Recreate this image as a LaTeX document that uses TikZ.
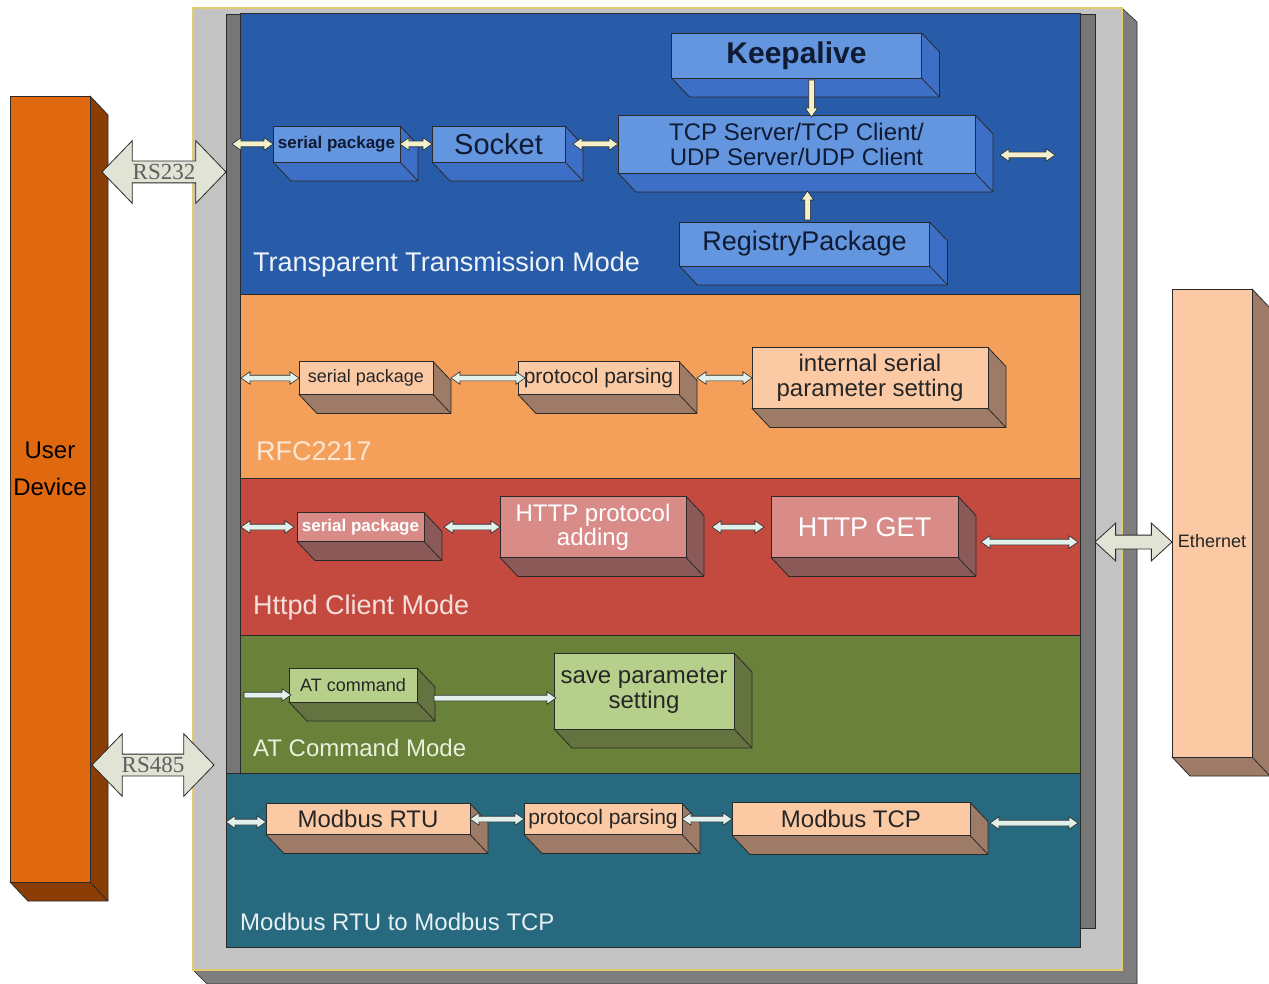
\documentclass[tikz,border=0pt]{standalone}
\usepackage{fontspec}
\setmainfont{Liberation Sans}
\newfontfamily\rsfont{Liberation Serif}
\usepackage{xcolor}
\usepackage{tikz}
\usetikzlibrary{calc}
\usetikzlibrary{positioning}
\usetikzlibrary{shapes.arrows}

\definecolor{edge}{HTML}{2A2A2A}
\definecolor{framegray}{HTML}{C3C3C3}
\definecolor{frameshade}{HTML}{7E7E7E}
\definecolor{frameyel}{HTML}{E3CC6E}
\definecolor{strip}{HTML}{767676}
\definecolor{ttblue}{HTML}{285CA8}
\definecolor{bluefront}{HTML}{6496DF}
\definecolor{blueside}{HTML}{3E6FC6}
\definecolor{navytext}{HTML}{0F1A33}
\definecolor{rfcorange}{HTML}{F4A05B}
\definecolor{peach}{HTML}{FBCAA5}
\definecolor{peachside}{HTML}{9D7B66}
\definecolor{httpred}{HTML}{C44A40}
\definecolor{pinkfront}{HTML}{D98B88}
\definecolor{pinkside}{HTML}{8B5A58}
\definecolor{atgreen}{HTML}{6A8139}
\definecolor{greenfront}{HTML}{B6D08C}
\definecolor{greenside}{HTML}{64733F}
\definecolor{mbteal}{HTML}{27697F}
\definecolor{userfront}{HTML}{E0690F}
\definecolor{userside}{HTML}{8A3D05}
\definecolor{cream}{HTML}{F4F0CC}
\definecolor{mint}{HTML}{E1F0EA}
\definecolor{bigfill}{HTML}{E1E3D4}
\definecolor{rsgray}{HTML}{5F5F5F}
\definecolor{ttitle}{HTML}{EEF3FA}
\definecolor{rfctitle}{HTML}{FCE6D2}
\definecolor{httitle}{HTML}{F6E0DC}
\definecolor{attitle}{HTML}{E9F0DC}
\definecolor{mbtitle}{HTML}{E6EFF2}

% arrow shape stretched between two points: [text]{style}{from}{to}
\newcommand{\linkarrow}[4][]{%
  \path let \p1=(#3), \p2=(#4), \n1={veclen(\x2-\x1,\y2-\y1)}, \n2={atan2(\y2-\y1,\x2-\x1)} in
    ($(\p1)!0.5!(\p2)$) node[#2, minimum height=\n1, rotate=\n2] {#1};}

\begin{document}
\begin{tikzpicture}[x=1pt,y=-1pt]
  \tikzset{
    fsz/.style 2 args={font=\fontsize{#1}{#2}\selectfont},
    fszb/.style 2 args={font=\fontsize{#1}{#2}\selectfont\bfseries},
    panel/.style={anchor=north west, draw=edge, line width=1pt, fill=#1, inner sep=0pt, outer sep=0pt, minimum width=840pt},
    title/.style={anchor=base west, inner sep=0pt, text=#1},
    blk/.style 2 args={draw=edge, line width=0.8pt, fill=#1, inner sep=0pt, outer sep=0pt, align=center,
      append after command={\pgfextra{\pgfinterruptpath
        \filldraw[fill=#2, draw=edge, line width=0.8pt, line join=round]
          (\tikzlastnode.north east) -- ++(18pt,-19pt) -- ($(\tikzlastnode.south east)+(18pt,-19pt)$)
          -- ($(\tikzlastnode.south west)+(18pt,-19pt)$) -- (\tikzlastnode.south west)
          -- (\tikzlastnode.south east) -- cycle
          (\tikzlastnode.south east) -- ++(18pt,-19pt);
        \endpgfinterruptpath}}},
    bxblue/.style={blk={bluefront}{blueside}, text=navytext},
    bxpeach/.style={blk={peach}{peachside}, text=black!85},
    bxpink/.style={blk={pinkfront}{pinkside}, text=white},
    bxgreen/.style={blk={greenfront}{greenside}, text=black!85},
    biarr/.style={double arrow, draw=edge, line width=0.6pt, fill=#1, inner xsep=0pt, inner ysep=2.5pt, outer sep=0pt,
      double arrow head extend=3.5pt, double arrow tip angle=70},
    biarr/.default=cream,
    uniarr/.style={single arrow, draw=edge, line width=0.6pt, fill=#1, inner xsep=0pt, inner ysep=2.5pt, outer sep=0pt,
      single arrow head extend=3.5pt, single arrow tip angle=70},
    uniarr/.default=cream,
    bigarr/.style={double arrow, draw=edge, line width=0.8pt, fill=bigfill, inner xsep=0pt, inner ysep=3pt, outer sep=0pt,
      double arrow head extend=20.5pt, double arrow tip angle=92, text height=15pt, text depth=0pt,
      font=\rsfont\fontsize{23}{23}\selectfont, text=rsgray},
    etharr/.style={double arrow, draw=edge, line width=0.8pt, fill=bigfill, inner xsep=0pt, inner ysep=6.5pt, outer sep=0pt,
      double arrow head extend=12pt, double arrow tip angle=85}
  }
  \useasboundingbox (0,0) rectangle (1269,984);

  % end devices
  \node[blk={userfront}{userside}, anchor=north west, minimum width=80pt, minimum height=786pt,
        fsz={24}{37}, text height=54pt, text depth=42pt] (user) at (10,96) {User\\Device};
  \node[bxpeach, anchor=north west, minimum width=80pt, minimum height=468pt,
        fsz={18}{18}, text height=62pt, text depth=13pt] (eth) at (1172,289) {Ethernet};

  % module frame
  \filldraw[fill=frameshade, draw=edge, line width=0.6pt] (1122,8) -- (1137,22) -- (1137,984) -- (207,984) -- (193,970) -- (1122,970) -- cycle;
  \filldraw[fill=framegray, draw=frameyel, line width=2.5pt] (193,8) rectangle (1122,970);
  \filldraw[fill=strip, draw=edge, line width=0.8pt] (226,14) rectangle (241,773);
  \filldraw[fill=strip, draw=edge, line width=0.8pt] (1080,14) rectangle (1095,928);

  % mode panels
  \node[panel=ttblue, minimum height=281pt] (tt) at (240,14) {};
  \node[panel=rfcorange, minimum height=183pt] (rfc) at (tt.south west) {};
  \node[panel=httpred, minimum height=157pt] (ht) at (rfc.south west) {};
  \node[panel=atgreen, minimum height=138pt] (atm) at (ht.south west) {};
  \node[panel=mbteal, minimum width=854pt, minimum height=174pt] (mb) at (226,773) {};

  \node[title=ttitle, fsz={27}{27}] (tt-t) at (253,272) {Transparent Transmission Mode};
  \node[title=rfctitle, fsz={27}{27}] (rfc-t) at (256,460) {RFC2217};
  \node[title=httitle, fsz={27}{27}] (ht-t) at (253,614) {Httpd Client Mode};
  \node[title=attitle, fsz={24}{24}] (atm-t) at (253,756) {AT Command Mode};
  \node[title=mbtitle, fsz={24}{24}] (mb-t) at (240,930) {Modbus RTU to Modbus TCP};

  % transparent transmission
  \node[bxblue, anchor=west, minimum width=127pt, minimum height=36pt, fszb={17}{17}] (ser1) at (273,144) {serial package};
  \node[bxblue, right=32pt of ser1, minimum width=133pt, minimum height=36pt, fsz={29}{29}] (sock) {Socket};
  \node[bxblue, right=53pt of sock, minimum width=357pt, minimum height=58pt, fsz={24}{25}] (tcp) {TCP Server/TCP Client/\\UDP Server/UDP Client};
  \node[bxblue, above=37pt of tcp, minimum width=250pt, minimum height=45pt, fszb={30}{30}] (keep) {Keepalive};
  \node[bxblue, below=49pt of tcp, xshift=8pt, minimum width=250pt, minimum height=44pt, fsz={27}{27}] (reg) {RegistryPackage};

  % rfc2217
  \node[bxpeach, anchor=west, minimum width=134pt, minimum height=33pt, fsz={18}{18}] (ser2) at (299,378) {serial package};
  \node[bxpeach, right=85pt of ser2, minimum width=161pt, minimum height=33pt, fsz={21}{21}] (proto1) {protocol parsing};
  \node[bxpeach, right=73pt of proto1, minimum width=236pt, minimum height=61pt, fsz={24}{25}] (int) {internal serial\\parameter setting};

  % httpd client
  \node[bxpink, anchor=west, minimum width=127pt, minimum height=29pt, fszb={17}{17}] (ser3) at (297,527) {serial package};
  \node[bxpink, right=76pt of ser3, minimum width=186pt, minimum height=61pt, fsz={24}{24}] (hp) {HTTP protocol\\adding};
  \node[bxpink, right=85pt of hp, minimum width=187pt, minimum height=61pt, fsz={27}{27}] (get) {HTTP GET};

  % at command
  \node[bxgreen, anchor=west, minimum width=128pt, minimum height=34pt, fsz={18}{18}] (atc) at (289,685) {AT command};
  \node[bxgreen, right=137pt of atc, yshift=-6pt, minimum width=180pt, minimum height=76pt, fsz={24}{25}] (save) {save parameter\\setting};

  % modbus
  \node[bxpeach, anchor=west, minimum width=204pt, minimum height=31pt, fsz={24}{24}] (rtu) at (266,819) {Modbus RTU};
  \node[bxpeach, right=54pt of rtu, minimum width=158pt, minimum height=31pt, fsz={21}{21}] (proto2) {protocol parsing};
  \node[bxpeach, right=50pt of proto2, minimum width=238pt, minimum height=33pt, fsz={24}{24}] (mtcp) {Modbus TCP};

  % free ends
  \coordinate (tt-in) at (232,144);
  \coordinate (tt-out) at (1055,155);
  \coordinate (rfc-in) at (241,378);
  \coordinate (ht-in) at (241,527);
  \coordinate (ht-out) at (1078,542);
  \coordinate (atm-in) at (242,695);
  \coordinate (mb-in) at (226,822);
  \coordinate (mb-out) at (1078,823);
  \coordinate (rs232-l) at (102,172);
  \coordinate (rs232-r) at (226,172);
  \coordinate (rs485-l) at (92,765);
  \coordinate (rs485-r) at (214,765);
  \coordinate (eth-in) at (1095,542);

  % links
  \linkarrow{biarr}{tt-in}{ser1.west}
  \linkarrow{biarr}{ser1.east}{sock.west}
  \linkarrow{biarr}{[xshift=8pt]sock.east}{tcp.west}
  \linkarrow{biarr}{$(tcp.east |- tt-out)+(25,0)$}{tt-out}
  \linkarrow{uniarr}{[xshift=15pt]keep.south}{[xshift=15pt]tcp.north}
  \linkarrow{uniarr}{[xshift=3pt]reg.north}{$(tcp.south)+(11,20)$}

  \linkarrow{biarr=mint}{rfc-in}{ser2.west}
  \linkarrow{biarr=mint}{[xshift=18pt]ser2.east}{[xshift=7pt]proto1.west}
  \linkarrow{biarr=mint}{[xshift=18pt]proto1.east}{int.west}

  \linkarrow{biarr=mint}{ht-in}{[xshift=-3pt]ser3.west}
  \linkarrow{biarr=mint}{[xshift=20pt]ser3.east}{hp.west}
  \linkarrow{biarr=mint}{[xshift=26pt]hp.east}{[xshift=-7pt]get.west}
  \linkarrow{biarr=mint}{$(get.east |- ht-out)+(23,0)$}{ht-out}

  \linkarrow{uniarr=mint}{atm-in}{atc.west |- atm-in}
  \linkarrow{uniarr=mint}{$(atc.east)+(15,13)$}{$(save.west)+(0,7)$}

  \linkarrow{biarr=mint}{mb-in}{rtu.west |- mb-in}
  \linkarrow{biarr=mint}{rtu.east}{proto2.west}
  \linkarrow{biarr=mint}{proto2.east}{mtcp.west}
  \linkarrow{biarr=mint}{$(mtcp.east |- mb-out)+(20,0)$}{mb-out}

  \linkarrow[RS232]{bigarr}{rs232-l}{rs232-r}
  \linkarrow[RS485]{bigarr}{rs485-l}{rs485-r}
  \linkarrow{etharr}{eth-in}{eth.west |- eth-in}
\end{tikzpicture}
\end{document}
